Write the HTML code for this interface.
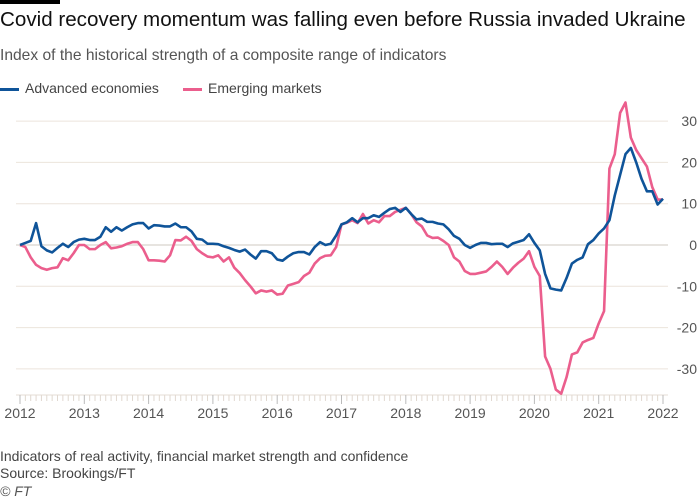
<!DOCTYPE html>
<html><head><meta charset="utf-8"><style>
body{margin:0;background:#fff;font-family:"Liberation Sans",sans-serif;}
#wrap{position:relative;width:700px;height:500px;overflow:hidden;}
.t{position:absolute;white-space:nowrap;}
</style></head><body>
<div id="wrap">
<div class="t" style="left:0;top:0;width:60px;height:4px;background:#000"></div>
<div class="t" style="left:0;top:8px;font-size:20.6px;color:#111">Covid recovery momentum was falling even before Russia invaded Ukraine</div>
<div class="t" style="left:0;top:47px;font-size:15.6px;color:#555">Index of the historical strength of a composite range of indicators</div>
<div class="t" style="left:0;top:80px;font-size:14px;color:#444"><span style="display:inline-block;width:19px;height:3px;background:#0f5499;vertical-align:middle;margin-right:6px"></span>Advanced economies</div>
<div class="t" style="left:183px;top:80px;font-size:14px;color:#444"><span style="display:inline-block;width:19px;height:3px;background:#eb5e8d;vertical-align:middle;margin-right:6px"></span>Emerging markets</div>
<svg id="chart" width="700" height="440" style="position:absolute;left:0;top:0"></svg>
<div class="t" style="left:0;top:448px;font-size:14px;color:#444">Indicators of real activity, financial market strength and confidence</div>
<div class="t" style="left:0;top:465px;font-size:14px;color:#444">Source: Brookings/FT</div>
<div class="t" style="left:0;top:483px;font-size:14px;color:#555;font-style:italic">© FT</div>
</div>
<script>
const years=[2012,2013,2014,2015,2016,2017,2018,2019,2020,2021,2022];
const yTicks=[30,20,10,0,-10,-20,-30];
const advanced=[0,0.5,1,5.3,-0.3,-1.3,-1.8,-0.7,0.3,-0.5,0.7,1.3,
1.5,1.2,1.2,2,4.3,3.2,4.3,3.5,4.3,5,5.3,5.3,
4,4.8,4.7,4.5,4.5,5.2,4.3,4.3,3.3,1.5,1.3,0.3,
0.3,0.2,-0.3,-0.7,-1.2,-1.6,-1.1,-2.3,-3.3,-1.5,-1.5,-2,
-3.5,-3.8,-2.8,-2,-1.7,-1.7,-2.3,-0.5,0.7,0,0.3,2.3,
5,5.5,6.5,5.5,6.5,6.5,7.2,6.8,7.8,8.7,9,8,
9,7.5,6.2,6.4,5.6,5.6,5.2,5,3.8,2.2,1.5,0,
-0.7,0,0.5,0.5,0.2,0.3,0.3,-0.5,0.4,0.8,1.2,2.6,
0.5,-1.3,-7,-10.5,-10.8,-11,-8,-4.5,-3.6,-3,0.2,1.2,
2.8,4,6,12,17,22,23.5,20,16,13,13,9.8,
11.2];
const emerging=[0,-0.5,-3,-4.8,-5.6,-6,-5.6,-5.4,-3.2,-3.7,-2,0,
0,-1,-1,0,0.7,-0.8,-0.6,-0.3,0.3,0.7,0.7,-1,
-3.7,-3.7,-3.8,-4,-2.5,1.2,1.1,2,1,-1,-2,-2.8,
-3,-2.5,-4,-3,-5.5,-6.8,-8.5,-10,-11.7,-11,-11.3,-11,
-12,-11.8,-9.8,-9.4,-9,-7.5,-6.7,-4.5,-3.2,-2.6,-2.5,-0.5,
5,5.4,6,5.3,7.5,5.2,6,5.5,7,7,8,8.5,
9,7.5,5.5,4.5,2.3,1.7,1.8,1,0,-3,-4,-6.3,
-7,-7,-6.7,-6.4,-5.3,-4,-5.3,-7,-5.5,-4.3,-3.3,-1.5,
-5.3,-7.5,-27,-30,-35,-36,-32,-26.5,-26,-23.6,-23,-22.5,
-19,-16,18.5,22,32,34.5,26,23,21,19,14,11,
11];
const NS="http://www.w3.org/2000/svg";
const svg=document.getElementById('chart');
const x0=20,x1=663,yr0=2012,yr1=2022;
function xs(i){return x0+(x1-x0)*i/((yr1-yr0)*12);}
function xy(y){return x0+(x1-x0)*(y-yr0)/(yr1-yr0);}
function ys(v){return 245-v*4.13;}
function mk(t,a){const e=document.createElementNS(NS,t);for(const k in a)e.setAttribute(k,a[k]);svg.appendChild(e);return e;}
yTicks.forEach(v=>{
 const l=mk('line',{x1:16,x2:668,y1:ys(v),y2:ys(v),stroke:v===0?'#cfc8c2':'#ece4dc','stroke-width':1});
 
 
 const t=mk('text',{x:697,y:ys(v)+5,'text-anchor':'end','font-size':14,fill:'#555','font-family':'Liberation Sans'});
 t.textContent=v;
 
 
});
const ax=mk('line',{x1:16,x2:668,y1:395,y2:395,stroke:'#e6ddd5'});


for(let i=0;i<=(yr1-yr0)*12;i++){
 const big=i%12===0;
 const tk=mk('line',{x1:xs(i),x2:xs(i),y1:395,y2:big?404:401,stroke:big?'#bbb':'#e0d8d0'});
 
 
}
years.forEach(y=>{
 const t=mk('text',{x:xy(y),y:418,'text-anchor':'middle','font-size':14,fill:'#555','font-family':'Liberation Sans'});
 t.textContent=y;
 
 
});
function line(d,c,n){
 const p=mk('polyline',{points:d.map((v,i)=>xs(i)+','+ys(v)).join(' '),fill:'none',stroke:c,'stroke-width':2.6,'stroke-linejoin':'round'});
 
 
}
line(emerging,'#eb5e8d','emerging-markets-line');
line(advanced,'#0f5499','advanced-economies-line');
</script>
</body></html>
